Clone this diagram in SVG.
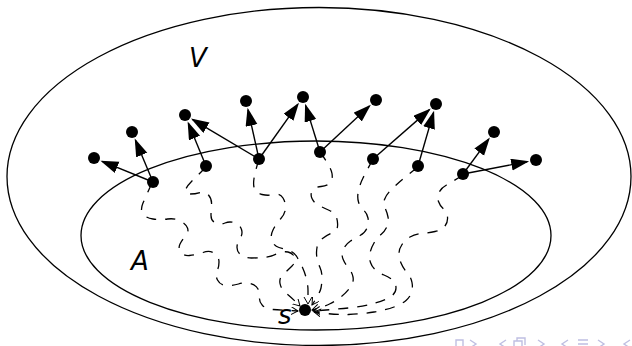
<svg xmlns="http://www.w3.org/2000/svg" width="632" height="346" viewBox="0 0 632 346">
<style>
.set{fill:none;stroke:#000;stroke-width:1.3}
.dot{fill:#000}
.arr{fill:none;stroke:#000;stroke-width:1.4;marker-end:url(#ah)}
.walk{fill:none;stroke:#000;stroke-width:1.3;stroke-dasharray:10 9;marker-end:url(#oh)}
.lbl{font-family:"DejaVu Sans",sans-serif;font-style:italic;font-size:26px;fill:#000}
.nav{fill:none;stroke:#bfbfe2;stroke-width:1.4}
</style>
<defs>
<marker id="ah" markerUnits="userSpaceOnUse" markerWidth="19" markerHeight="13" refX="16" refY="6" orient="auto"><path d="M0,0 L18,6 L0,12 z" fill="#000"/></marker>
<marker id="oh" markerUnits="userSpaceOnUse" markerWidth="9" markerHeight="9" refX="7" refY="4" orient="auto"><path d="M0,0 L7,4 L0,8" fill="none" stroke="#000" stroke-width="1" stroke-dasharray="none"/></marker>
</defs>
<g id="set-V"><ellipse class="set" cx="319" cy="176.5" rx="312" ry="169"/><text class="lbl" x="189" y="67">V</text></g>
<g id="set-A"><ellipse class="set" cx="316" cy="235.5" rx="235" ry="94.5"/><text class="lbl" x="131" y="270">A</text></g>
<g id="connectors">
<path class="walk" d="M152,183 Q146,196 143,203 Q140,210 143,214 Q146,218 153,219 Q160,220 167.5,219 Q175,218 180.5,221 Q186,224 187.5,228 Q189,232 185.5,236 Q182,240 180,244 Q178,248 180.5,252 Q183,256 189.5,255.5 Q196,255 203,252.5 Q210,250 214.5,253.5 Q219,257 219,262 Q219,267 217,271 Q215,275 217.5,280 Q220,285 226,285.5 Q232,286 238.5,284 Q245,282 250.5,283.5 Q256,285 258,289 Q260,293 259.5,297.5 Q259,302 262.5,305.5 Q266,309 273,309.5 Q280,310 298,311"/>
<path class="walk" d="M206,167 Q197,176 191.5,181.5 Q186,187 185.5,190.5 Q185,194 190,194 Q195,194 200,192.5 Q205,191 208.5,195 Q212,199 211.5,204.5 Q211,210 211,215.5 Q211,221 215.5,223 Q220,225 225,223 Q230,221 235,223 Q240,225 241.5,229.5 Q243,234 240,238.5 Q237,243 237,247.5 Q237,252 241,255 Q245,258 251.5,258 Q258,258 264,257.5 Q270,257 276.5,254 Q283,251 288,252 Q293,253 294.5,257.5 Q296,262 292,266 Q288,270 283.5,274 Q279,278 280,283.5 Q281,289 286.5,293.5 Q292,298 300,306"/>
<path class="walk" d="M259,159 Q255,172 254,178.5 Q253,185 254.5,189 Q256,193 262,194.5 Q268,196 274,194.5 Q280,193 283,198 Q286,203 285.5,208.5 Q285,214 280.5,219 Q276,224 273,230 Q270,236 272,241 Q274,246 279,247.5 Q284,249 289,250.5 Q294,252 297,257 Q300,262 302.5,267.5 Q305,273 306.5,279 Q308,285 308,290.5 L308,304"/>
<path class="walk" d="M320,152 Q331,167 332,173.5 Q333,180 330,183 Q327,186 321,186.5 Q315,187 312.5,190.5 Q310,194 312,198.5 Q314,203 319,205.5 Q324,208 329.5,210.5 Q335,213 336.5,217.5 Q338,222 337.5,226.5 Q337,231 332,233 Q327,235 322.5,238.5 Q318,242 317,247.5 Q316,253 317,258 Q318,263 320,267.5 Q322,272 322,277.5 Q322,283 321,288 Q320,293 312,305"/>
<path class="walk" d="M373,159 Q366,172 363,178 Q360,184 358.5,190.5 Q357,197 358.5,202 Q360,207 363.5,210 Q367,213 368,218 Q369,223 367,228 Q365,233 360,235.5 Q355,238 350.5,241 Q346,244 343.5,249 Q341,254 343,259 Q345,264 348.5,268 Q352,272 353,277 Q354,282 350.5,287 Q347,292 341.5,296.5 Q336,301 329.5,304 Q323,307 312,310"/>
<path class="walk" d="M418,167 Q405,177 400,181.5 Q395,186 390.5,190.5 Q386,195 384.5,199.5 Q383,204 385,208 Q387,212 388,217 Q389,222 387,226.5 Q385,231 381,234.5 Q377,238 374,243 Q371,248 370,253 Q369,258 370.5,262.5 Q372,267 375.5,270 Q379,273 384,275 Q389,277 392.5,280 Q396,283 396,288 Q396,293 391,296.5 Q386,300 375.5,303 Q365,306 352.5,307.5 Q340,309 313,311"/>
<path class="walk" d="M463,175 Q452,182 446.5,185 Q441,188 439,192.5 Q437,197 438.5,201.5 Q440,206 443.5,209 Q447,212 447.5,217 Q448,222 445,226 Q442,230 435,231.5 Q428,233 421.5,233.5 Q415,234 410,237 Q405,240 402,244.5 Q399,249 399,253.5 Q399,258 401,263 Q403,268 407,272.5 Q411,277 412,282.5 Q413,288 411.5,292.5 Q410,297 406,300.5 Q402,304 394,307 Q386,310 374,312 Q362,314 348.5,314.5 Q335,315 314,312"/>
<line class="arr" x1="153" y1="182" x2="102.3" y2="161.4"/>
<line class="arr" x1="153" y1="182" x2="135.5" y2="140.3"/>
<line class="arr" x1="206" y1="166" x2="188.4" y2="123.3"/>
<line class="arr" x1="259" y1="159" x2="192.7" y2="119.6"/>
<line class="arr" x1="259" y1="159" x2="248" y2="109.8"/>
<line class="arr" x1="259" y1="159" x2="297.8" y2="104.3"/>
<line class="arr" x1="320" y1="152" x2="305.7" y2="105.6"/>
<line class="arr" x1="320" y1="152" x2="369.4" y2="106.1"/>
<line class="arr" x1="373" y1="159" x2="429.2" y2="109.9"/>
<line class="arr" x1="418" y1="166" x2="433.5" y2="112.6"/>
<line class="arr" x1="463" y1="174" x2="488.7" y2="139.2"/>
<line class="arr" x1="463" y1="174" x2="527.2" y2="161.7"/>
</g>
<g id="node-n1"><circle class="dot" cx="153" cy="182" r="6"/></g>
<g id="node-n2"><circle class="dot" cx="206" cy="166" r="6"/></g>
<g id="node-n3"><circle class="dot" cx="259" cy="159" r="6"/></g>
<g id="node-n4"><circle class="dot" cx="320" cy="152" r="6"/></g>
<g id="node-n5"><circle class="dot" cx="373" cy="159" r="6"/></g>
<g id="node-n6"><circle class="dot" cx="418" cy="166" r="6"/></g>
<g id="node-n7"><circle class="dot" cx="463" cy="174" r="6"/></g>
<g id="node-o1"><circle class="dot" cx="94" cy="158" r="6"/></g>
<g id="node-o2"><circle class="dot" cx="132" cy="132" r="6"/></g>
<g id="node-o3"><circle class="dot" cx="185" cy="115" r="6"/></g>
<g id="node-o4"><circle class="dot" cx="246" cy="101" r="6"/></g>
<g id="node-o5"><circle class="dot" cx="303" cy="97" r="6"/></g>
<g id="node-o6"><circle class="dot" cx="376" cy="100" r="6"/></g>
<g id="node-o7"><circle class="dot" cx="436" cy="104" r="6"/></g>
<g id="node-o8"><circle class="dot" cx="494" cy="132" r="6"/></g>
<g id="node-o9"><circle class="dot" cx="536" cy="160" r="6"/></g>
<g id="node-s"><circle class="dot" cx="305" cy="310" r="6"/><text class="lbl" x="278" y="324">s</text></g>
<g id="navigation">
<path class="nav" d="M456,347 V340 H463 V347"/>
<path class="nav" d="M470,340 L476,344 L470,348"/>
<path class="nav" d="M506,340 L500,344 L506,348"/>
<path class="nav" d="M514,347 V341 H522 V347 M517,341 V338 H525 V345"/>
<path class="nav" d="M538,340 L544,344 L538,348"/>
<path class="nav" d="M568,340 L562,344 L568,348"/>
<path class="nav" d="M578,340 H588 M578,344 H588"/>
<path class="nav" d="M598,340 L604,344 L598,348"/>
<path class="nav" d="M630,340 L624,344 L630,348"/>
</g>
</svg>
